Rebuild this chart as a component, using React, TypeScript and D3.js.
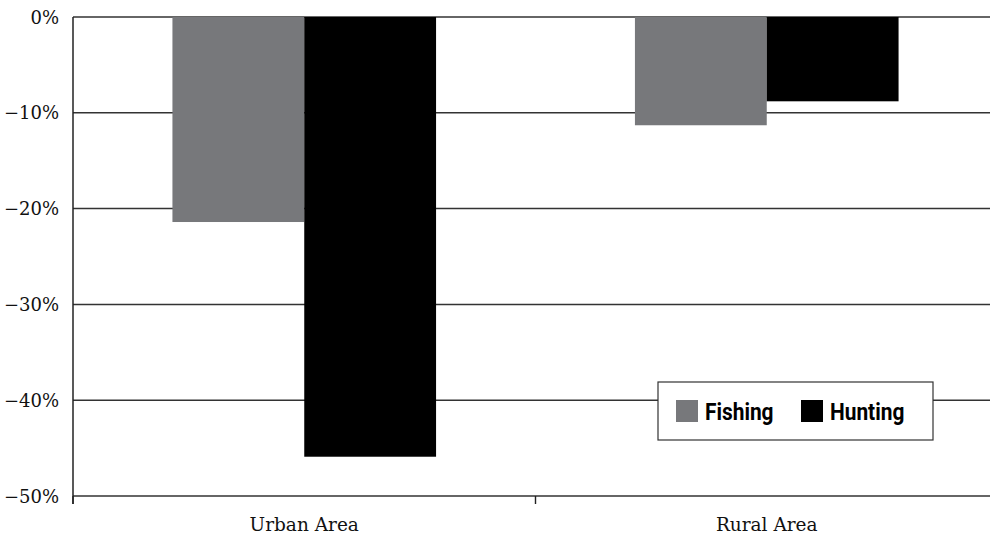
import React from 'react';
import * as d3 from 'd3';

const categories = ['Urban Area', 'Rural Area'];
const seriesNames = ['Fishing', 'Hunting'];
const fishing = [-21.4, -11.3];
const hunting = [-45.9, -8.8];
const yTicks = [0, -10, -20, -30, -40, -50];

const colours = ['#77787b', '#000000'];

const W = 990;
const H = 540;
const left = 73;
const right = 998; // plot runs slightly past the picture edge
const top = 17;
const bottom = 496;

export default function App() {
  const x0 = d3.scaleBand<string>().domain(categories).range([left, right]).paddingInner(0.43).paddingOuter(0.215);
  const x1 = d3.scaleBand<string>().domain(seriesNames).range([0, x0.bandwidth()]);
  const y = d3.scaleLinear().domain([0, -50]).range([top, bottom]);

  const values = [fishing, hunting];
  const bars = categories.flatMap((c, ci) =>
    seriesNames.map((s, si) => {
      const v = values[si][ci];
      return (
        <rect key={c + s} x={(x0(c) || 0) + (x1(s) || 0)} y={y(0)} width={x1.bandwidth()}
          height={y(v) - y(0)} fill={colours[si]} />
      );
    })
  );

  const step = x0.step();
  const xTicks = [left, left + step];

  const legendX = 658;
  const legendY = 382;

  return (
    <svg width={W} height={H} style={{ position: 'absolute', left: 0, top: 0 }}>
      <rect x={0} y={0} width={W} height={H} fill="#fff" />
      {yTicks.map(t => (
        <g key={t}>
          <line x1={left} x2={right} y1={y(t)} y2={y(t)} stroke="#333" strokeWidth={1.5} />
          <text x={59} y={y(t) + 6.5} textAnchor="end" fontFamily="'DejaVu Serif', serif" fontSize={18} fill="#111">
            {t === 0 ? '0%' : '\u2212' + Math.abs(t) + '%'}
          </text>
        </g>
      ))}
      <line x1={left} x2={left} y1={top} y2={bottom + 8} stroke="#222" strokeWidth={1.5} />
      {xTicks.map((t, i) => (
        <line key={i} x1={t} x2={t} y1={bottom} y2={bottom + 8} stroke="#222" strokeWidth={1.4} />
      ))}
      {bars}
      {categories.map(c => (
        <text key={c} x={(x0(c) || 0) + x0.bandwidth() / 2} y={531} textAnchor="middle"
          fontFamily="'DejaVu Serif', serif" fontSize={18.5} fill="#111">{c}</text>
      ))}
      <rect x={legendX} y={legendY} width={275} height={58} fill="#fff" stroke="#333" strokeWidth={1.2} />
      {seriesNames.map((s, i) => {
        const lx = legendX + 18 + i * 125;
        return (
          <g key={s}>
            <rect x={lx} y={legendY + 18} width={22} height={22} fill={colours[i]} />
            <text transform={`translate(${lx + 29},${legendY + 38}) scale(0.87,1)`}
              fontFamily="Roboto, sans-serif" fontWeight="bold" fontSize={24} fill="#000">{s}</text>
          </g>
        );
      })}
    </svg>
  );
}
